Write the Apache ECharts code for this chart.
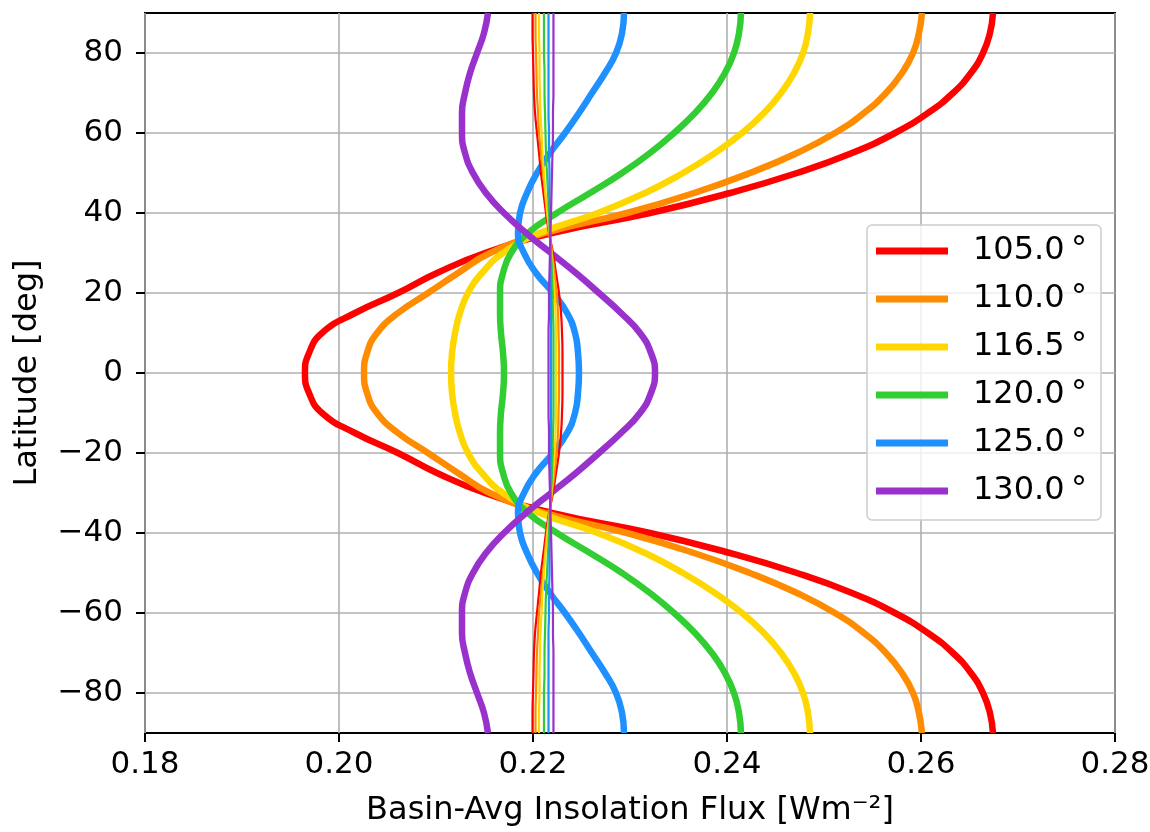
<!DOCTYPE html>
<html><head><meta charset="utf-8">
<script src="https://cdn.jsdelivr.net/npm/echarts@6/dist/echarts.min.js"></script>
<style>html,body{margin:0;padding:0;background:#fff}#c{width:1150px;height:832px}</style>
</head><body><div id="c"></div>
<script>
// Latitude grid (deg)
const latitudes = [-90,-85,-80,-75,-70,-65,-60,-55,-50,-45,-40,-35,-30,-25,-20,-15,-10,-5,0,5,10,15,20,25,30,35,40,45,50,55,60,65,70,75,80,85,90];
const xTicks = [0.18,0.20,0.22,0.24,0.26,0.28];
const yTicks = [-80,-60,-40,-20,0,20,40,60,80];
const obliquityLabels = ['105.0\u2009°','110.0\u2009°','116.5\u2009°','120.0\u2009°','125.0\u2009°','130.0\u2009°'];
const colors = ['#ff0000','#ff8c00','#ffd700','#32cd32','#1e90ff','#9932cc'];

// Thick curves (basin-avg insolation flux)
const flux105 = [0.26742,0.26711,0.26639,0.26515,0.26330,0.26072,0.25732,0.25289,0.24722,0.24031,0.23206,0.22196,0.21505,0.21010,0.20608,0.20165,0.19825,0.19691,0.19649,0.19691,0.19825,0.20165,0.20608,0.21010,0.21505,0.22196,0.23206,0.24031,0.24722,0.25289,0.25732,0.26072,0.26330,0.26515,0.26639,0.26711,0.26742];
const flux110 = [0.26010,0.25979,0.25918,0.25804,0.25639,0.25412,0.25113,0.24722,0.24237,0.23660,0.22969,0.22124,0.21557,0.21227,0.20918,0.20608,0.20392,0.20289,0.20258,0.20289,0.20392,0.20608,0.20918,0.21227,0.21557,0.22124,0.22969,0.23660,0.24237,0.24722,0.25113,0.25412,0.25639,0.25804,0.25918,0.25979,0.26010];
const flux1165 = [0.24856,0.24835,0.24784,0.24691,0.24557,0.24381,0.24155,0.23876,0.23546,0.23155,0.22670,0.22072,0.21691,0.21474,0.21330,0.21247,0.21196,0.21165,0.21155,0.21165,0.21196,0.21247,0.21330,0.21474,0.21691,0.22072,0.22670,0.23155,0.23546,0.23876,0.24155,0.24381,0.24557,0.24691,0.24784,0.24835,0.24856];
const flux120 = [0.24144,0.24124,0.24072,0.23979,0.23845,0.23670,0.23454,0.23206,0.22918,0.22588,0.22247,0.21948,0.21773,0.21691,0.21660,0.21660,0.21670,0.21691,0.21701,0.21691,0.21670,0.21660,0.21660,0.21691,0.21773,0.21948,0.22247,0.22588,0.22918,0.23206,0.23454,0.23670,0.23845,0.23979,0.24072,0.24124,0.24144];
const flux125 = [0.22938,0.22918,0.22856,0.22742,0.22608,0.22474,0.22330,0.22175,0.22041,0.21938,0.21866,0.21845,0.21907,0.22031,0.22206,0.22351,0.22433,0.22464,0.22474,0.22464,0.22433,0.22351,0.22206,0.22031,0.21907,0.21845,0.21866,0.21938,0.22041,0.22175,0.22330,0.22474,0.22608,0.22742,0.22856,0.22918,0.22938];
const flux130 = [0.21536,0.21495,0.21423,0.21351,0.21299,0.21268,0.21268,0.21299,0.21381,0.21515,0.21701,0.21928,0.22186,0.22443,0.22680,0.22907,0.23103,0.23216,0.23258,0.23216,0.23103,0.22907,0.22680,0.22443,0.22186,0.21928,0.21701,0.21515,0.21381,0.21299,0.21268,0.21268,0.21299,0.21351,0.21423,0.21495,0.21536];

// Thin curves
const thin105 = [0.21995,0.21995,0.22000,0.22005,0.22010,0.22021,0.22041,0.22062,0.22082,0.22108,0.22134,0.22165,0.22206,0.22237,0.22268,0.22289,0.22299,0.22304,0.22304,0.22304,0.22299,0.22289,0.22268,0.22237,0.22206,0.22165,0.22134,0.22108,0.22082,0.22062,0.22041,0.22021,0.22010,0.22005,0.22000,0.21995,0.21995];
const thin110 = [0.22026,0.22026,0.22031,0.22036,0.22041,0.22052,0.22062,0.22082,0.22103,0.22124,0.22144,0.22170,0.22196,0.22222,0.22242,0.22258,0.22263,0.22268,0.22268,0.22268,0.22263,0.22258,0.22242,0.22222,0.22196,0.22170,0.22144,0.22124,0.22103,0.22082,0.22062,0.22052,0.22041,0.22036,0.22031,0.22026,0.22026];
const thin1165 = [0.22062,0.22062,0.22067,0.22067,0.22072,0.22077,0.22088,0.22098,0.22113,0.22129,0.22149,0.22170,0.22191,0.22206,0.22222,0.22232,0.22237,0.22237,0.22237,0.22237,0.22237,0.22232,0.22222,0.22206,0.22191,0.22170,0.22149,0.22129,0.22113,0.22098,0.22088,0.22077,0.22072,0.22067,0.22067,0.22062,0.22062];
const thin120 = [0.22113,0.22113,0.22113,0.22119,0.22119,0.22124,0.22129,0.22134,0.22144,0.22155,0.22165,0.22175,0.22186,0.22196,0.22201,0.22206,0.22211,0.22211,0.22211,0.22211,0.22211,0.22206,0.22201,0.22196,0.22186,0.22175,0.22165,0.22155,0.22144,0.22134,0.22129,0.22124,0.22119,0.22119,0.22113,0.22113,0.22113];
const thin125 = [0.22160,0.22160,0.22160,0.22160,0.22160,0.22160,0.22165,0.22165,0.22170,0.22170,0.22175,0.22175,0.22180,0.22180,0.22186,0.22186,0.22186,0.22186,0.22186,0.22186,0.22186,0.22186,0.22186,0.22180,0.22180,0.22175,0.22175,0.22170,0.22170,0.22165,0.22165,0.22160,0.22160,0.22160,0.22160,0.22160,0.22160];
const thin130 = [0.22211,0.22211,0.22211,0.22211,0.22211,0.22206,0.22206,0.22201,0.22196,0.22191,0.22186,0.22180,0.22175,0.22170,0.22165,0.22165,0.22160,0.22160,0.22160,0.22160,0.22160,0.22165,0.22165,0.22170,0.22175,0.22180,0.22186,0.22191,0.22196,0.22201,0.22206,0.22206,0.22211,0.22211,0.22211,0.22211,0.22211];

const thickSets = [flux105, flux110, flux1165, flux120, flux125, flux130];
const thinSets = [thin105, thin110, thin1165, thin120, thin125, thin130];
const FONT = 'DejaVu Sans';

function pairs(vals) { return vals.map((v, i) => [v, latitudes[i]]); }

const series = [];
thickSets.forEach((vals, k) => {
  series.push({
    name: obliquityLabels[k], type: 'line', data: pairs(vals),
    showSymbol: false, smooth: 0.5,
    lineStyle: { color: colors[k], width: 6.5 }, itemStyle: { color: colors[k] },
    z: 2, clip: true
  });
});
thinSets.forEach((vals, k) => {
  series.push({
    name: 'thin ' + obliquityLabels[k], type: 'line', data: pairs(vals),
    showSymbol: false, smooth: 0.5,
    lineStyle: { color: colors[k], width: 2.2 }, itemStyle: { color: colors[k] },
    z: 3, clip: true
  });
});

const chart = echarts.init(document.getElementById('c'), null, { renderer: 'canvas' });
chart.setOption({
  animation: false,
  backgroundColor: '#ffffff',
  grid: { left: 145, right: 35, top: 13, bottom: 99, show: true, borderColor: '#000', borderWidth: 2, containLabel: false, outerBoundsMode: 'none' },
  legend: {
    data: obliquityLabels, orient: 'vertical', left: 867, top: 225,
    padding: [8, 14, 11, 9], itemWidth: 72, itemHeight: 7, itemGap: 12, icon: 'rect',
    backgroundColor: 'rgba(255,255,255,0.8)', borderColor: '#cccccc', borderWidth: 1.5, borderRadius: 5,
    selectedMode: false,
    textStyle: { fontFamily: FONT, fontSize: 32, color: '#000', lineHeight: 36, padding: [0, 0, 0, 20] }
  },
  xAxis: {
    type: 'value', min: xTicks[0], max: xTicks[xTicks.length - 1], interval: 0.02,
    name: 'Basin-Avg Insolation Flux [Wm\u207B\u00B2]', nameLocation: 'middle', nameGap: 62,
    nameTextStyle: { fontFamily: FONT, fontSize: 32, color: '#000' },
    axisLine: { show: false, onZero: false },
    axisTick: { show: true, length: 9, lineStyle: { color: '#000', width: 2 } },
    axisLabel: { fontFamily: FONT, fontSize: 31, color: '#000', margin: 16, formatter: v => v.toFixed(2) },
    splitLine: { show: true, lineStyle: { color: '#b0b0b0', width: 1.6 } }
  },
  yAxis: {
    type: 'value', min: -90, max: 90, splitNumber: 9, minInterval: 20, maxInterval: 20,
    name: 'Latitude [deg]', nameLocation: 'middle', nameGap: 101,
    nameTextStyle: { fontFamily: FONT, fontSize: 32, color: '#000' },
    axisLine: { show: false, onZero: false },
    axisTick: { show: true, length: 9, customValues: yTicks, lineStyle: { color: '#000', width: 2 } },
    axisLabel: { fontFamily: FONT, fontSize: 31, color: '#000', margin: 22, showMinLabel: false, showMaxLabel: false,
      formatter: v => String(v).replace('-', '\u2212') },
    splitLine: { show: true, lineStyle: { color: '#b0b0b0', width: 1.6 } }
  },
  series: series
});
</script></body></html>
